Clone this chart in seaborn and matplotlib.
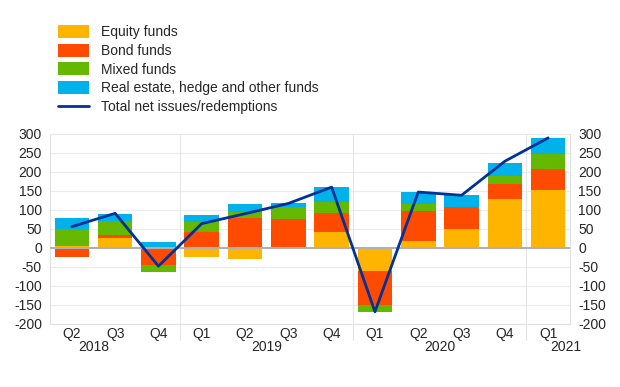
import matplotlib
matplotlib.use('AGG')
import matplotlib.pyplot as plt
import matplotlib.transforms as mtransforms
from matplotlib.patches import Patch
from matplotlib.lines import Line2D
import numpy as np
import seaborn as sns

quarters = ['Q2', 'Q3', 'Q4', 'Q1', 'Q2', 'Q3', 'Q4', 'Q1', 'Q2', 'Q3', 'Q4', 'Q1']
years = ['2018', '2019', '2020', '2021']
year_pos = [0.5, 4.5, 8.5, 11.4]

equity = [6, 25, 1, -24, -29, -2, 41.5, -60, 19.4, 48.5, 128, 153.6]
bond = [-25, 9, -45, 41.5, 78.5, 75, 50.5, -90, 77.6, 58.3, 39.7, 54.7]
mixed = [44, 37, -19, 27, 15, 33.5, 28, -17.6, 17.7, -3.5, 20.3, 38.8]
other = [30, 19, 14, 17.5, 22, 10.5, 40.6, 1, 31.8, 32.6, 35, 42.5]
total = [56, 91, -48, 64, 90, 117, 160, -168, 147, 138.5, 228, 289.5]

labels = ['Equity funds', 'Bond funds', 'Mixed funds',
          'Real estate, hedge and other funds']
colors = ['#FFB400', '#FF4B00', '#65B800', '#00B1EA']
line_color = '#003299'

sns.set_style('white')
plt.rcParams['font.family'] = ['Liberation Sans', 'DejaVu Sans']
plt.rcParams['axes.unicode_minus'] = False

fig = plt.figure(figsize=(6.2, 3.87), dpi=100)
ax = fig.add_axes([0.081, 0.163, 0.838, 0.491])

x = np.arange(len(quarters))
pos_base = np.zeros(len(x))
neg_base = np.zeros(len(x))
for series, col in zip([equity, bond, mixed, other], colors):
    vals = np.array(series, dtype=float)
    bottoms = np.where(vals >= 0, pos_base, neg_base)
    ax.bar(x, vals, width=0.8, bottom=bottoms, color=col, linewidth=0, zorder=2)
    pos_base += np.where(vals >= 0, vals, 0)
    neg_base += np.where(vals < 0, vals, 0)

sns.lineplot(x=x, y=total, color=line_color, linewidth=2, ax=ax, zorder=4)

ax.set_xlim(-0.5, len(x) - 0.5)
ax.set_ylim(-200, 300)
ax.set_yticks(range(-200, 301, 50))
for yv in range(-200, 301, 50):
    ax.axhline(yv, color='#EBEBEB', linewidth=0.8, zorder=0)
ax.axhline(0, color='#B0B0B0', linewidth=1.5, zorder=3)

trans = mtransforms.blended_transform_factory(ax.transData, ax.transAxes)
for xv in [2.5, 6.5, 10.5]:
    ax.plot([xv, xv], [-0.085, 1], color='#E6E6E6', linewidth=0.8,
            transform=trans, clip_on=False, zorder=0)

ax.set_xticks(x)
ax.set_xticklabels(quarters, fontsize=10)
ax.tick_params(axis='x', length=0, pad=2)
ax.tick_params(axis='y', length=0, labelsize=10, pad=6)
for i, yr in enumerate(years):
    ax.text(year_pos[i], -0.085, yr, transform=trans, ha='center', va='top',
            fontsize=10)

for side, sp in ax.spines.items():
    sp.set_color('#E0E0E0')
    sp.set_linewidth(0.8)
ax.spines['top'].set_visible(False)

ax2 = ax.twinx()
ax2.set_ylim(-200, 300)
ax2.set_yticks(range(-200, 301, 50))
ax2.tick_params(axis='y', length=0, labelsize=10, pad=6)
for side, sp in ax2.spines.items():
    sp.set_visible(False)

handles = [Patch(facecolor=c, edgecolor='none') for c in colors]
handles.append(Line2D([0], [0], color=line_color, linewidth=2))
fig.legend(handles, labels + ['Total net issues/redemptions'],
           loc='upper left', bbox_to_anchor=(0.085, 0.95), frameon=False,
           fontsize=10, handlelength=2.2, handleheight=1.05,
           labelspacing=0.33, handletextpad=0.85, borderaxespad=0)

fig.savefig('out.png', dpi=100)
